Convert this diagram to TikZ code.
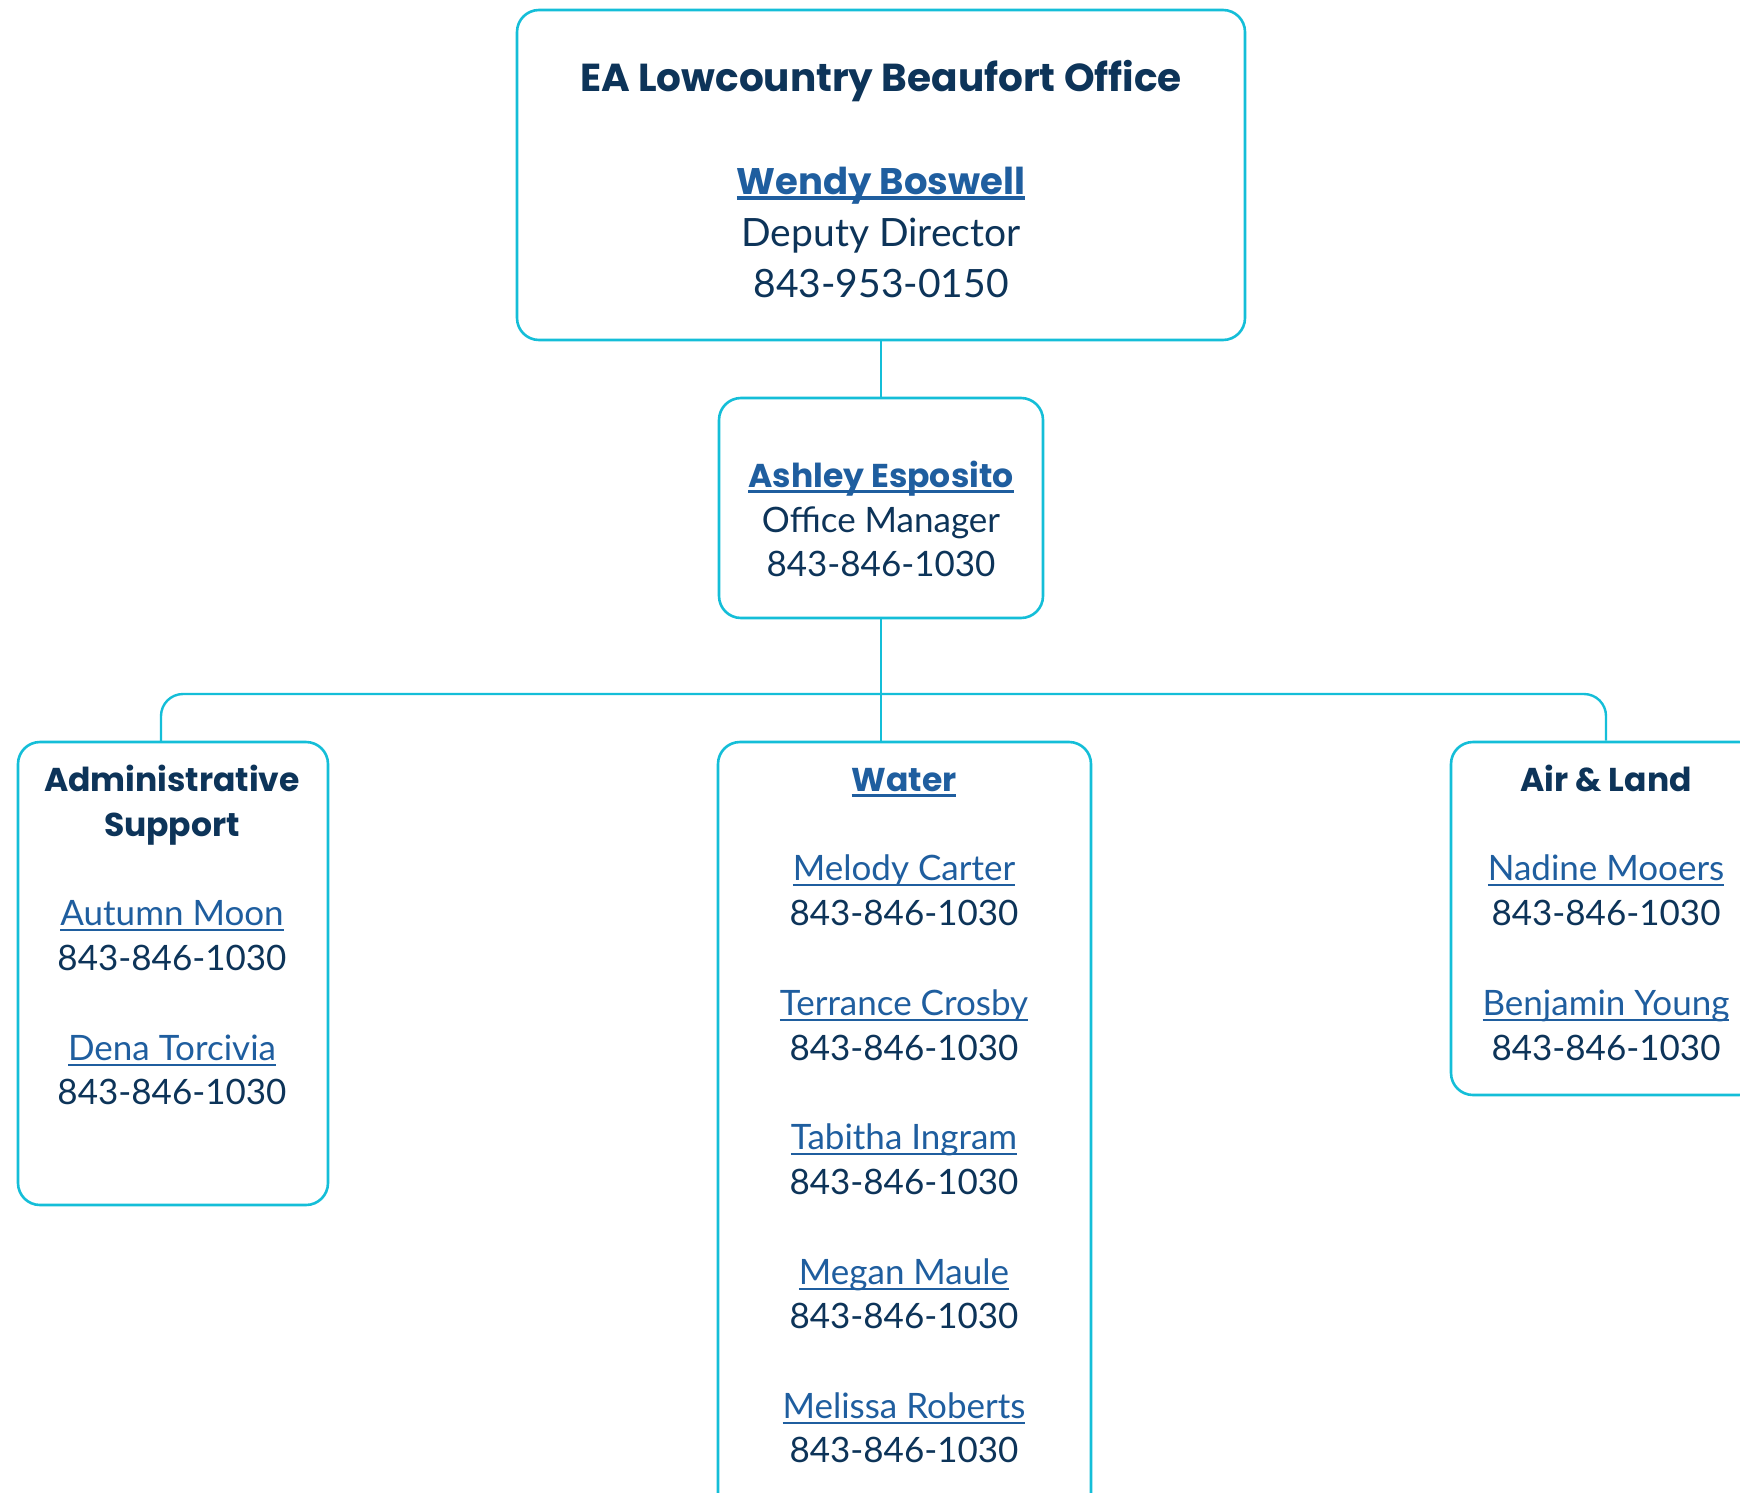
\documentclass[tikz,border=0pt]{standalone}
\usepackage{fontspec}
\setmainfont{Lato}
\newfontfamily\hfont{Poppins}
\newcommand{\myul}[2][1pt]{\setbox0=\hbox{#2}\rlap{\rule[-3pt]{\wd0}{#1}}\box0}
\definecolor{cyanc}{HTML}{14BED8}
\definecolor{navy}{HTML}{0D3459}
\definecolor{linkb}{HTML}{1F5E9F}
\tikzset{
  box/.style={draw=cyanc, line width=1.3pt, rounded corners=11pt, inner sep=0pt, fill=white},
  conn/.style={draw=cyanc, line width=1.2pt},
  txt/.style={anchor=base, inner sep=0pt, text=navy, font=\fontsize{17.5}{21}\selectfont},
  lnk/.style={txt, text=linkb},
  hd/.style={txt, font=\hfont\fontsize{16.5}{21}\selectfont\bfseries},
  bigtxt/.style={txt, font=\fontsize{19.5}{23}\selectfont},
  bighd/.style={txt, font=\hfont\fontsize{18.5}{23}\selectfont\bfseries},
}
\begin{document}
\begin{tikzpicture}[x=0.5pt,y=-0.5pt]
\useasboundingbox[fill=white] (0,0) rectangle (1740,1493);
% boxes
\node[box, minimum width=364pt, minimum height=165pt] (top) at (881,175) {};
\node[box, minimum width=162pt, minimum height=110pt] (mgr) at (881,508) {};
\node[box, minimum width=155pt, minimum height=231.5pt] (adm) at (173,973.5) {};
\node[box, minimum width=186.5pt, minimum height=390pt] (wat) at (904.5,1132) {};
\node[box, minimum width=155pt, minimum height=176.5pt] (air) at (1606,918.5) {};
% connectors
\coordinate (hub) at (881,694);
\coordinate (admtop) at (161,742);
\draw[conn] (top.south) -- (mgr.north);
\draw[conn] (mgr.south) -- (mgr.south |- wat.north);
\draw[conn, rounded corners=11pt] (admtop) |- (hub) -| (air.north);
% top box text
\node[bighd, font=\hfont\fontsize{19.5}{23}\selectfont\bfseries] (t1) at (881,92) {EA Lowcountry Beaufort Office};
\node[bighd, text=linkb] (t2) at (881,194) {\myul[1.8pt]{Wendy Boswell}};
\node[bigtxt] (t3) at (881,246) {Deputy Director};
\node[bigtxt] (t4) at (881,297) {843-953-0150};
% manager
\node[hd, text=linkb] (m1) at (881,487) {\myul[1.5pt]{Ashley Esposito}};
\node[txt] (m2) at (881,532) {Office Manager};
\node[txt] (m3) at (881,576) {843-846-1030};
% admin
\node[hd] (a0) at (172,791) {Administrative};
\node[hd] (a1) at (172,836) {Support};
\node[lnk] (a2) at (172,925) {\myul{Autumn Moon}};
\node[txt] (a3) at (172,970) {843-846-1030};
\node[lnk] (a4) at (172,1060) {\myul{Dena Torcivia}};
\node[txt] (a5) at (172,1104) {843-846-1030};
% water
\node[hd, text=linkb] (w0) at (904,791) {\myul[1.5pt]{Water}};
\node[lnk] (w1) at (904,880) {\myul{Melody Carter}};
\node[txt] (w2) at (904,925) {843-846-1030};
\node[lnk] (w3) at (904,1015) {\myul{Terrance Crosby}};
\node[txt] (w4) at (904,1060) {843-846-1030};
\node[lnk] (w5) at (904,1149) {\myul{Tabitha Ingram}};
\node[txt] (w6) at (904,1194) {843-846-1030};
\node[lnk] (w7) at (904,1284) {\myul{Megan Maule}};
\node[txt] (w8) at (904,1328) {843-846-1030};
\node[lnk] (w9) at (904,1418) {\myul{Melissa Roberts}};
\node[txt] (w10) at (904,1462) {843-846-1030};
% air & land
\node[hd] (l0) at (1606,791) {Air \& Land};
\node[lnk] (l1) at (1606,880) {\myul{Nadine Mooers}};
\node[txt] (l2) at (1606,925) {843-846-1030};
\node[lnk] (l3) at (1606,1015) {\myul{Benjamin Young}};
\node[txt] (l4) at (1606,1060) {843-846-1030};
\end{tikzpicture}
\end{document}
